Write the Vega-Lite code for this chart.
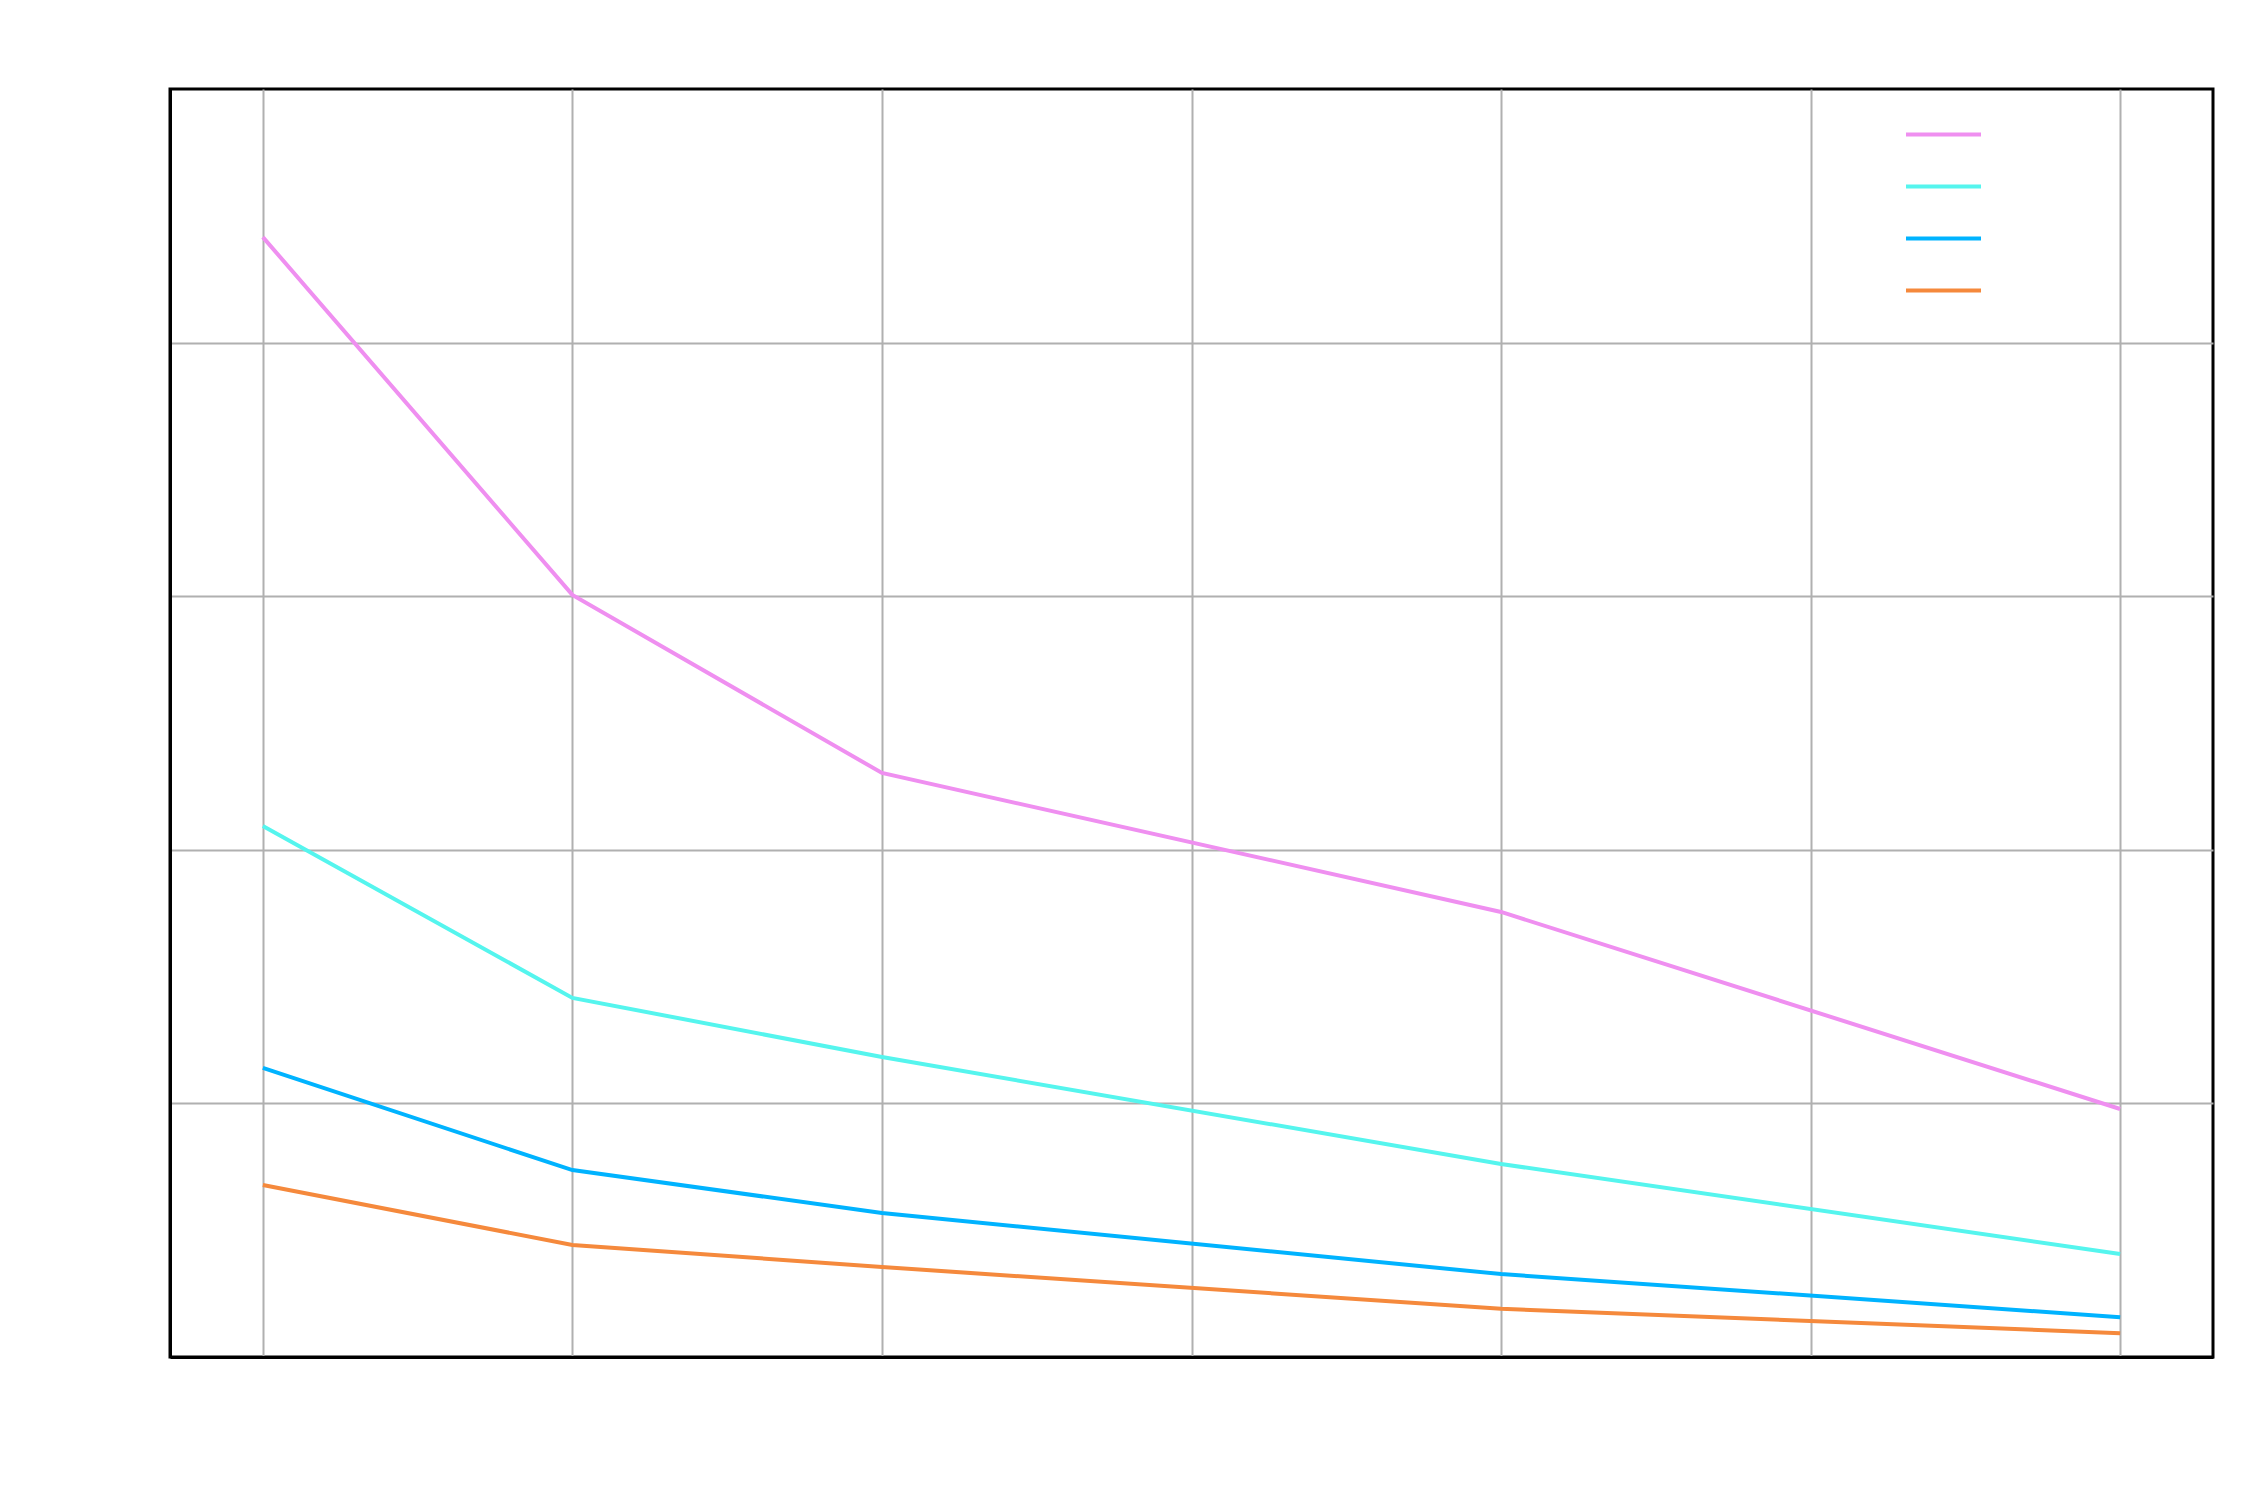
{
  "$schema": "https://vega.github.io/schema/vega-lite/v6.json",
  "width": 2043,
  "height": 1268,
  "autosize": {"type": "none"},
  "padding": {"left": 170, "top": 89, "right": 37, "bottom": 143},
  "background": "white",
  "config": {
    "view": {"stroke": "black", "strokeWidth": 3},
    "font": "DejaVu Sans"
  },
  "data": {
    "values": [
      {"x": 1, "y": 4.416, "series": "series 1"},
      {"x": 2, "y": 3.005, "series": "series 1"},
      {"x": 3, "y": 2.303, "series": "series 1"},
      {"x": 5, "y": 1.755, "series": "series 1"},
      {"x": 7, "y": 0.978, "series": "series 1"},
      {"x": 1, "y": 2.094, "series": "series 2"},
      {"x": 2, "y": 1.416, "series": "series 2"},
      {"x": 3, "y": 1.183, "series": "series 2"},
      {"x": 5, "y": 0.761, "series": "series 2"},
      {"x": 7, "y": 0.406, "series": "series 2"},
      {"x": 1, "y": 1.14, "series": "series 3"},
      {"x": 2, "y": 0.737, "series": "series 3"},
      {"x": 3, "y": 0.568, "series": "series 3"},
      {"x": 5, "y": 0.327, "series": "series 3"},
      {"x": 7, "y": 0.157, "series": "series 3"},
      {"x": 1, "y": 0.678, "series": "series 4"},
      {"x": 2, "y": 0.442, "series": "series 4"},
      {"x": 3, "y": 0.355, "series": "series 4"},
      {"x": 5, "y": 0.19, "series": "series 4"},
      {"x": 7, "y": 0.094, "series": "series 4"}
    ]
  },
  "mark": {"type": "line", "strokeWidth": 4, "clip": true},
  "encoding": {
    "x": {
      "field": "x",
      "type": "quantitative",
      "scale": {"domain": [0.7, 7.3], "nice": false, "zero": false},
      "axis": {
        "title": "x",
        "titleColor": "white",
        "values": [1, 2, 3, 4, 5, 6, 7],
        "labelColor": "white",
        "labelFontSize": 28,
        "ticks": false,
        "domain": true,
        "domainColor": "black",
        "domainWidth": 3,
        "gridColor": "#b0b0b0",
        "gridWidth": 2,
        "gridOpacity": 1
      }
    },
    "y": {
      "field": "y",
      "type": "quantitative",
      "scale": {"domain": [0, 5], "nice": false},
      "axis": {
        "title": "y",
        "titleColor": "white",
        "values": [1, 2, 3, 4],
        "labelColor": "white",
        "labelFontSize": 28,
        "ticks": false,
        "domain": true,
        "domainColor": "black",
        "domainWidth": 3,
        "gridColor": "#b0b0b0",
        "gridWidth": 2,
        "gridOpacity": 1
      }
    },
    "color": {
      "field": "series",
      "type": "nominal",
      "scale": {
        "domain": ["series 1", "series 2", "series 3", "series 4"],
        "range": ["#ef8ff0", "#55f5ee", "#00b3ff", "#f5893c"]
      },
      "legend": {
        "title": null,
        "orient": "none",
        "legendX": 1734,
        "legendY": 6,
        "padding": 0,
        "symbolType": "stroke",
        "symbolSize": 5625,
        "symbolStrokeWidth": 4,
        "labelColor": "white",
        "labelFontSize": 23,
        "rowPadding": 0,
        "labelOffset": 12
      }
    }
  }
}
